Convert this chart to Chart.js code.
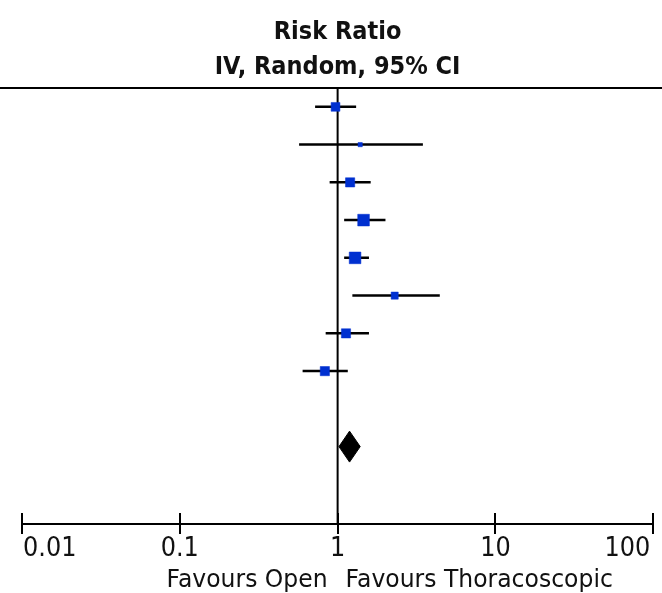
<!DOCTYPE html>
<html>
<head>
<meta charset="utf-8">
<script src="https://cdn.jsdelivr.net/npm/chart.js@4.4.1/dist/chart.umd.min.js"></script>
<style>
    body { margin: 0; background: #fff; }
    #wrap { width: 662px; height: 593px; }
</style>
</head>
<body>
<div id="wrap"><canvas id="forest" width="662" height="593"></canvas></div>
<script>
// Dữ liệu các nghiên cứu (Risk Ratio, 95% CI)
const studyRows = [1, 2, 3, 4, 5, 6, 7, 8];
const riskRatio = [0.97, 1.39, 1.20, 1.46, 1.29, 2.30, 1.13, 0.83];
const ciLower   = [0.72, 0.57, 0.89, 1.10, 1.10, 1.24, 0.84, 0.60];
const ciUpper   = [1.31, 3.47, 1.62, 2.01, 1.58, 4.44, 1.58, 1.16];
const weights   = [11.5, 2.7, 12.6, 20.2, 20.2, 7.5, 12.6, 12.6];

// Kết quả gộp (Total)
const pooledRow = 10;
const pooledEst = 1.19;
const pooledLower = 1.02;
const pooledUpper = 1.39;

const nullEffect = 1;
const tickValues = [0.01, 0.1, 1, 10, 100];
const tickLabels = ['0.01', '0.1', '1', '10', '100'];

const SQUARE_COLOR = '#0030d0';
const TEXT_COLOR = '#111';

// Vẽ chữ kéo giãn theo chiều dọc (font gốc cao hơn DejaVu một chút)
function drawText(ctx, text, x, y, align, font, stretch) {
    ctx.save();
    ctx.font = font;
    ctx.textAlign = align;
    ctx.textBaseline = 'alphabetic';
    ctx.translate(x, y);
    ctx.scale(1, stretch);
    ctx.fillText(text, 0, 0);
    ctx.restore();
}

// Vẽ tiêu đề, đường kẻ trên cùng, nhãn trục và nhãn "Favours"
const decorPlugin = {
    id: 'decor',
    afterDraw(chart) {
        const ctx = chart.ctx;
        const area = chart.chartArea;
        const xs = chart.scales.x;
        const x1 = xs.getPixelForValue(nullEffect);

        ctx.save();
        ctx.fillStyle = '#000';
        ctx.fillRect(0, 87, chart.width, 2);

        // nửa trên của vạch chia trục
        ctx.strokeStyle = '#000';
        ctx.lineWidth = 2;
        ctx.beginPath();
        tickValues.forEach(v => {
            const x = Math.round(xs.getPixelForValue(v));
            ctx.moveTo(x, area.bottom);
            ctx.lineTo(x, area.bottom - 11);
        });
        ctx.stroke();

        ctx.fillStyle = TEXT_COLOR;
        const titleFont = 'bold 22.5px "DejaVu Sans"';
        drawText(ctx, 'Risk Ratio', x1, 38.5, 'center', titleFont, 1.1);
        drawText(ctx, 'IV, Random, 95% CI', x1, 73.5, 'center', titleFont, 1.1);

        // nhãn trục x: nhãn đầu canh trái, nhãn cuối canh phải
        const tickFont = '24px "DejaVu Sans"';
        tickValues.forEach((v, i) => {
            const x = xs.getPixelForValue(v);
            if (i === 0) drawText(ctx, tickLabels[i], x + 1, 556, 'left', tickFont, 1.08);
            else if (i === tickValues.length - 1) drawText(ctx, tickLabels[i], x - 3, 556, 'right', tickFont, 1.08);
            else drawText(ctx, tickLabels[i], x, 556, 'center', tickFont, 1.08);
        });

        const favFont = '23.5px "DejaVu Sans"';
        drawText(ctx, 'Favours Open', x1 - 10, 587, 'right', favFont, 1.05);
        drawText(ctx, 'Favours Thoracoscopic', x1 + 8, 587, 'left', favFont, 1.05);
        ctx.restore();
    }
};

const squares = {
    data: studyRows.map((row, i) => ({ x: riskRatio[i], y: row })),
    pointStyle: 'rect',
    pointRadius: weights.map(w => Math.sqrt(w) * 2.6 / Math.SQRT2),
    pointBackgroundColor: SQUARE_COLOR,
    pointBorderColor: SQUARE_COLOR,
    pointBorderWidth: 0.5,
    order: 0
};

const halfH = 0.41;
const diamond = {
    data: [
        { x: pooledLower, y: pooledRow },
        { x: pooledEst, y: pooledRow - halfH },
        { x: pooledUpper, y: pooledRow },
        { x: pooledEst, y: pooledRow + halfH },
        { x: pooledLower, y: pooledRow }
    ],
    showLine: true,
    fill: 'shape',
    backgroundColor: '#000',
    borderColor: '#000',
    borderWidth: 1,
    pointRadius: 0,
    order: 1
};

const refLine = {
    data: [{ x: nullEffect, y: 0.5 }, { x: nullEffect, y: 12.05 }],
    showLine: true,
    borderColor: '#000',
    borderWidth: 2,
    pointRadius: 0,
    order: 3
};

const ciLines = studyRows.map((row, i) => ({
    data: [{ x: ciLower[i], y: row }, { x: ciUpper[i], y: row }],
    showLine: true,
    borderColor: '#000',
    borderWidth: 2.5,
    pointRadius: 0,
    order: 2
}));

new Chart(document.getElementById('forest'), {
    type: 'scatter',
    data: { datasets: [squares, diamond, refLine, ...ciLines] },
    options: {
        responsive: false,
        animation: false,
        layout: { padding: { top: 88, left: 22, right: 6, bottom: 0 } },
        plugins: {
            legend: { display: false },
            tooltip: { enabled: false }
        },
        scales: {
            x: {
                type: 'logarithmic',
                min: 0.01,
                max: 100,
                afterBuildTicks: (scale) => {
                    scale.ticks = tickValues.map(v => ({ value: v }));
                },
                afterFit: (scale) => { scale.height = 69; },
                border: { display: true, color: '#000', width: 2 },
                grid: {
                    drawOnChartArea: false,
                    drawTicks: true,
                    tickLength: 10,
                    color: '#000',
                    lineWidth: 2
                },
                ticks: { display: false }
            },
            y: {
                type: 'linear',
                display: false,
                reverse: true,
                min: 0.5,
                max: 12.05
            }
        }
    },
    plugins: [decorPlugin]
});
</script>
</body>
</html>
